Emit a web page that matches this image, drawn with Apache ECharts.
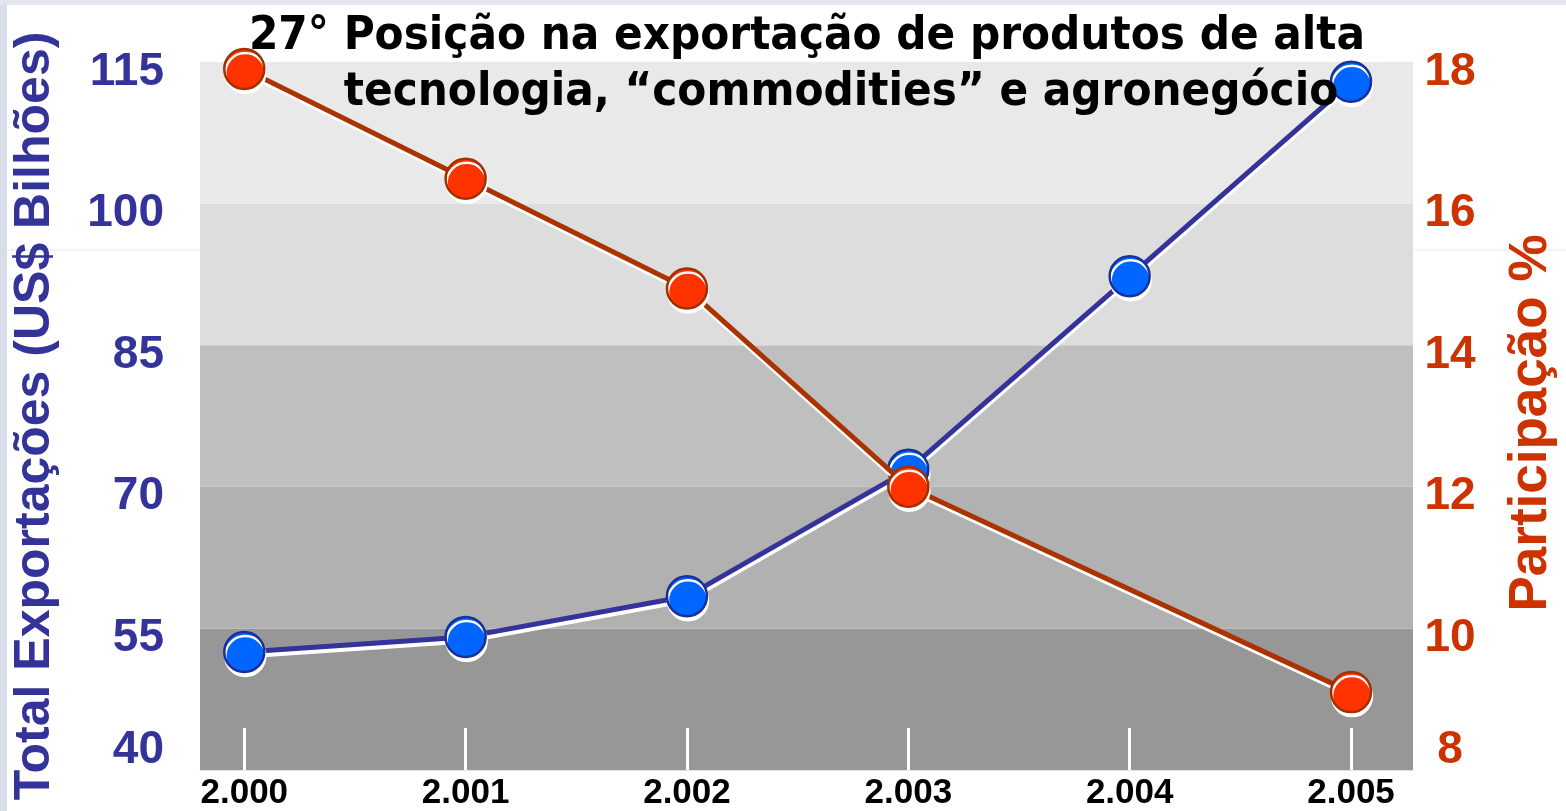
<!DOCTYPE html>
<html>
<head>
<meta charset="utf-8">
<script src="https://cdn.jsdelivr.net/npm/echarts@6/dist/echarts.min.js"></script>
<style>
html,body{margin:0;padding:0;background:#fff;}
#chart{width:1566px;height:811px;}
</style>
</head>
<body>
<div id="chart"></div>
<script>
// ---- data ----
const years = [2000, 2001, 2002, 2003, 2004, 2005];
const xLabels = ['2.000', '2.001', '2.002', '2.003', '2.004', '2.005'];
const exportTotal = [52.5, 54.1, 58.4, 71.8, 92.3, 112.9];      // US$ bilhões
const participacao = [17.9, 16.35, 14.8, 12.0, null, 9.1];      // %
const leftTicks = [40, 55, 70, 85, 100, 115];
const rightTicks = [8, 10, 12, 14, 16, 18];
const titleLines = ['27° Posição na exportação de produtos de alta', 'tecnologia, “commodities” e agronegócio'];

const chart = echarts.init(document.getElementById('chart'));
const labelFont = 'Liberation Sans, Arial, sans-serif';
const titleFont = 'DejaVu Sans Condensed, DejaVu Sans, sans-serif';

function tickRich(color) {
  const base = { fontFamily: labelFont, fontWeight: 'bold', fontSize: 46, color: color };
  return {
    n: Object.assign({ padding: [20, 0, 0, 0] }, base),
    lo: Object.assign({ padding: [0, 0, 40, 0] }, base)
  };
}

const titleBase = { fontFamily: titleFont, fontWeight: 'bold', fontSize: 47, lineHeight: 56, color: '#000' };

chart.setOption({
  animation: false,
  backgroundColor: '#ffffff',
  title: {
    text: '{a|' + titleLines[0] + '}\n{b|' + titleLines[1] + '}',
    left: 819,
    top: 4,
    textAlign: 'center',
    textStyle: Object.assign({
      rich: {
        a: Object.assign({ padding: [0, 34, 0, 0] }, titleBase),
        b: Object.assign({ padding: [0, 0, 0, 34] }, titleBase)
      }
    }, titleBase),
    z: 20
  },
  graphic: [
    { type: 'rect', shape: { x: 0, y: 0, width: 7, height: 811 }, style: { fill: '#d9dde9' }, silent: true },
    { type: 'rect', shape: { x: 0, y: 0, width: 1566, height: 5 }, style: { fill: '#e3e6ee' }, silent: true },
    { type: 'line', shape: { x1: 7, y1: 250, x2: 200, y2: 250 }, style: { stroke: '#e6e8f0', lineWidth: 1 }, silent: true },
    { type: 'line', shape: { x1: 1414, y1: 250, x2: 1566, y2: 250 }, style: { stroke: '#e6e8f0', lineWidth: 1 }, silent: true }
  ],
  grid: { left: 200, right: 152, top: 62, bottom: 41 },
  xAxis: {
    type: 'value',
    min: 1999.8,
    max: 2005.28,
    splitLine: { show: false },
    axisLine: { show: true, lineStyle: { color: '#e2e2e2', width: 1 } },
    axisTick: {
      show: true, inside: true, length: 42,
      customValues: years,
      lineStyle: { color: '#ffffff', width: 3 }
    },
    axisLabel: {
      customValues: years,
      formatter: v => xLabels[years.indexOf(Math.round(v))],
      fontFamily: labelFont,
      fontWeight: 'bold',
      fontSize: 35,
      color: '#000',
      margin: 6
    }
  },
  yAxis: [
    {
      type: 'value',
      min: leftTicks[0], max: leftTicks[leftTicks.length - 1], interval: 15,
      position: 'left',
      name: 'Total Exportações (US$ Bilhões)',
      nameLocation: 'middle',
      nameRotate: 90,
      nameGap: 140,
      nameTextStyle: { fontFamily: labelFont, fontWeight: 'bold', fontSize: 50, color: '#333399' },
      axisLine: { show: false }, axisTick: { show: false },
      splitLine: { show: false },
      splitArea: { show: true, areaStyle: { color: ['#979797', '#b1b1b1', '#bfbfbf', '#dddddd', '#e9e9e9'] } },
      axisLabel: {
        customValues: leftTicks,
        formatter: v => (v === leftTicks[0] ? '{lo|' + v + '}' : '{n|' + v + '}'),
        rich: tickRich('#333399'),
        margin: 36
      }
    },
    {
      type: 'value',
      min: rightTicks[0], max: rightTicks[rightTicks.length - 1], interval: 2,
      position: 'right',
      name: 'Participação %',
      nameLocation: 'middle',
      nameRotate: 90,
      nameGap: 92,
      nameTextStyle: { fontFamily: labelFont, fontWeight: 'bold', fontSize: 53, color: '#cc3300', padding: [0, 14, 0, 0] },
      axisLine: { show: false }, axisTick: { show: false },
      splitLine: { show: false },
      splitArea: { show: false },
      axisLabel: {
        customValues: rightTicks,
        align: 'center',
        formatter: v => (v === rightTicks[0] ? '{lo|' + v + '}' : '{n|' + v + '}'),
        rich: tickRich('#cc3300'),
        margin: 37
      }
    }
  ],
  series: [
    {
      name: 'Total Exportações',
      type: 'line',
      yAxisIndex: 0,
      data: years.map((y, i) => [y, exportTotal[i]]),
      symbol: 'circle',
      symbolSize: 40,
      lineStyle: { color: '#333399', width: 5, shadowColor: '#ffffff', shadowOffsetY: 4, shadowBlur: 0 },
      itemStyle: { color: '#0066ff', borderColor: '#1a2f99', borderWidth: 2.5, shadowColor: '#ffffff', shadowOffsetY: 4, shadowOffsetX: 1, shadowBlur: 0 },
      z: 3
    },
    {
      name: 'Participação',
      type: 'line',
      yAxisIndex: 1,
      connectNulls: true,
      data: years.map((y, i) => [y, participacao[i]]),
      symbol: 'circle',
      symbolSize: 40,
      lineStyle: { color: '#aa3300', width: 5, shadowColor: '#ffffff', shadowOffsetY: 3, shadowBlur: 0 },
      itemStyle: { color: '#ff3300', borderColor: '#a33000', borderWidth: 2.5, shadowColor: '#ffffff', shadowOffsetY: 4, shadowOffsetX: 1, shadowBlur: 0 },
      z: 4
    }
  ]
});
</script>
</body>
</html>
